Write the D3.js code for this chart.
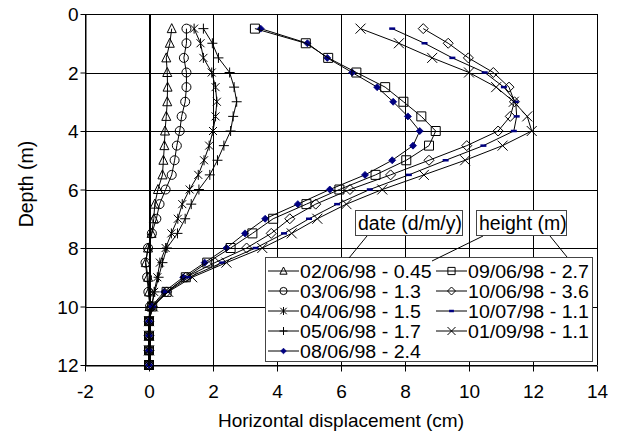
<!DOCTYPE html>
<html>
<head>
<meta charset="utf-8">
<script src="https://cdn.jsdelivr.net/npm/d3@7"></script>
<style>
  body { margin: 0; background: #fff; }
  text { font-family: "Liberation Sans", Arial, sans-serif; fill: #000; }
</style>
</head>
<body>
<div id="chart"></div>
<script>
const width = 618;
const height = 432;

// depth (m) of every reading
const depths = [0.5, 1, 1.5, 2, 2.5, 3, 3.5, 4, 4.5, 5, 5.5, 6, 6.5, 7, 7.5, 8, 8.5, 9, 9.5, 10, 10.5, 11, 11.5, 12];

// horizontal displacement (cm) per survey
const s020698 = [0.71, 0.65, 0.54, 0.57, 0.58, 0.57, 0.54, 0.50, 0.48, 0.45, 0.42, 0.28, 0.18, 0.15, 0.08, -0.03, -0.10, -0.03, 0.00, 0.02, 0, 0, 0, 0];
const s030698 = [1.17, 1.17, 1.09, 1.17, 1.17, 1.13, 1.02, 0.96, 0.87, 0.80, 0.71, 0.52, 0.33, 0.23, 0.09, -0.03, -0.11, -0.06, -0.02, 0.03, 0, 0, 0, 0];
const s040698 = [1.41, 1.61, 1.70, 1.96, 2.08, 2.12, 2.08, 2.00, 1.88, 1.72, 1.54, 1.27, 1.04, 0.90, 0.70, 0.52, 0.34, 0.26, 0.16, 0.08, 0, 0, 0, 0];
const s050698 = [1.70, 1.98, 2.17, 2.52, 2.66, 2.74, 2.63, 2.55, 2.34, 2.14, 1.90, 1.56, 1.32, 1.13, 0.89, 0.56, 0.42, 0.30, 0.18, 0.08, 0, 0, 0, 0];
const s080698 = [3.49, 4.95, 5.57, 6.35, 7.13, 7.63, 8.09, 8.46, 8.25, 7.60, 6.75, 5.65, 4.65, 3.63, 3.00, 2.42, 1.74, 1.07, 0.47, 0.08, 0, 0, 0, 0];
const s090698 = [3.31, 4.90, 5.60, 6.48, 7.38, 7.95, 8.51, 8.96, 8.75, 8.04, 7.08, 5.95, 4.92, 3.88, 3.23, 2.55, 1.82, 1.15, 0.55, 0.10, 0, 0, 0, 0];
const s100698 = [8.57, 9.35, 9.98, 10.76, 11.25, 11.42, 11.29, 10.91, 9.93, 8.75, 7.55, 6.28, 5.21, 4.40, 3.82, 3.05, 2.06, 1.15, 0.55, 0.10, 0, 0, 0, 0];
const s100798 = [7.60, 8.61, 9.48, 10.49, 11.09, 11.46, 11.49, 11.40, 10.45, 9.27, 8.12, 6.90, 5.88, 5.00, 4.22, 3.33, 2.29, 1.25, 0.57, 0.12, 0, 0, 0, 0];
const s010998 = [6.61, 7.81, 8.85, 10.00, 10.85, 11.40, 11.82, 11.96, 11.05, 9.88, 8.59, 7.29, 6.17, 5.26, 4.46, 3.54, 2.42, 1.35, 0.60, 0.12, 0, 0, 0, 0];

const seriesNames = ["02/06/98 - 0.45", "03/06/98 - 1.3", "04/06/98 - 1.5", "05/06/98 - 1.7", "08/06/98 - 2.4",
                     "09/06/98 - 2.7", "10/06/98 - 3.6", "10/07/98 - 1.1", "01/09/98 - 1.1"];
const seriesValues = [s020698, s030698, s040698, s050698, s080698, s090698, s100698, s100798, s010998];
const seriesMarkers = ["triangle", "circle", "asterisk", "plus", "dot", "square", "diamond", "dash", "cross"];

const xTicks = [-2, 0, 2, 4, 6, 8, 10, 12, 14];
const yTicks = [0, 2, 4, 6, 8, 10, 12];

// marker shapes, k = scale
function markerPath(type, k) {
    const p = v => (v * k).toFixed(2);
    switch (type) {
        case "triangle": return `M0,${p(-5)}L${p(4.5)},${p(4)}L${p(-4.5)},${p(4)}Z`;
        case "circle": return `M${p(4.5)},0A${p(4.5)},${p(4.5)} 0 1,1 ${p(-4.5)},0A${p(4.5)},${p(4.5)} 0 1,1 ${p(4.5)},0`;
        case "asterisk": return `M${p(-4)},${p(-4)}L${p(4)},${p(4)}M${p(-4)},${p(4)}L${p(4)},${p(-4)}M0,${p(-5)}L0,${p(5)}`;
        case "plus": return `M${p(-5)},0L${p(5)},0M0,${p(-5)}L0,${p(5)}`;
        case "dot": return `M0,${p(-3.5)}L${p(3.5)},0L0,${p(3.5)}L${p(-3.5)},0Z`;
        case "square": return `M${p(-4.5)},${p(-4.5)}h${p(9)}v${p(9)}h${p(-9)}Z`;
        case "diamond": return `M0,${p(-5)}L${p(5)},0L0,${p(5)}L${p(-5)},0Z`;
        case "dash": return `M${p(-3)},0L${p(3)},0`;
        case "cross": return `M${p(-5)},${p(-5)}L${p(5)},${p(5)}M${p(-5)},${p(5)}L${p(5)},${p(-5)}`;
    }
}

function styleMarker(sel, type) {
    if (type === "dot") {
        sel.attr("fill", "#000080").attr("stroke", "#000080").attr("stroke-width", 0.8);
    } else if (type === "dash") {
        sel.attr("fill", "none").attr("stroke", "#000080").attr("stroke-width", 2.5);
    } else {
        sel.attr("fill", "none").attr("stroke", "#000").attr("stroke-width", 1);
    }
}

function drawChart() {
    const svg = d3.select("#chart")
        .append("svg")
        .attr("width", width)
        .attr("height", height)
        .style("background-color", "#ffffff");

    const xScale = d3.scaleLinear()
        .domain([-2, 14])
        .range([85, 597]);

    const yScale = d3.scaleLinear()
        .domain([0, 12])
        .range([14, 365]);

    // grid
    const grid = svg.append("g").attr("shape-rendering", "crispEdges");
    grid.selectAll(".vg")
        .data(xTicks)
        .join("line")
        .attr("x1", d => Math.round(xScale(d)) + 0.5)
        .attr("x2", d => Math.round(xScale(d)) + 0.5)
        .attr("y1", yScale(0))
        .attr("y2", yScale(12))
        .attr("stroke", "#000")
        .attr("stroke-width", d => d === 0 ? 2 : 1);
    grid.selectAll(".hg")
        .data(yTicks)
        .join("line")
        .attr("x1", xScale(-2))
        .attr("x2", xScale(14))
        .attr("y1", d => Math.round(yScale(d)) + 0.5)
        .attr("y2", d => Math.round(yScale(d)) + 0.5)
        .attr("stroke", "#000");

    const xAxis = d3.axisBottom(xScale).tickValues(xTicks).tickFormat(d => String(d)).tickSize(6).tickSizeOuter(0);
    const yAxis = d3.axisLeft(yScale).tickValues(yTicks).tickFormat(d => String(d)).tickSize(5).tickSizeOuter(0);

    const gx = svg.append("g")
        .attr("transform", `translate(0, ${Math.round(yScale(12)) + 0.5})`)
        .call(xAxis);
    gx.selectAll("text").attr("dy", null).attr("y", 32).style("font-size", "19px")
        .style("font-family", "Liberation Sans, Arial, sans-serif");

    const gy = svg.append("g")
        .attr("transform", `translate(${Math.round(xScale(-2)) + 0.5}, 0)`)
        .call(yAxis);
    gy.selectAll("text").attr("dy", "0.35em").attr("x", -7).style("font-size", "19px")
        .style("font-family", "Liberation Sans, Arial, sans-serif");

    [gx, gy].forEach(g => {
        g.select(".domain").attr("stroke", "#000");
        g.selectAll("line").attr("stroke", "#000");
    });

    // axis titles
    svg.append("text")
        .attr("x", 341)
        .attr("y", 427)
        .attr("text-anchor", "middle")
        .style("font-size", "19px")
        .text("Horizontal displacement (cm)");

    svg.append("text")
        .attr("transform", "translate(33, 184) rotate(-90)")
        .attr("text-anchor", "middle")
        .style("font-size", "19.5px")
        .text("Depth (m)");

    // series
    const line = d3.line()
        .x(d => xScale(d.x))
        .y(d => yScale(d.y));

    seriesValues.forEach((values, i) => {
        const pts = values.map((v, j) => ({ x: v, y: depths[j] }));
        svg.append("path")
            .datum(pts)
            .attr("fill", "none")
            .attr("stroke", "#000")
            .attr("stroke-width", 1)
            .attr("d", line);

        svg.append("g")
            .selectAll("path")
            .data(pts)
            .join("path")
            .attr("transform", d => `translate(${xScale(d.x)}, ${yScale(d.y)})`)
            .attr("d", markerPath(seriesMarkers[i], 1))
            .call(styleMarker, seriesMarkers[i]);
    });

    // legend
    const legend = svg.append("g");
    legend.append("rect")
        .attr("x", 265.5)
        .attr("y", 257.5)
        .attr("width", 327)
        .attr("height", 104)
        .attr("fill", "#fff")
        .attr("stroke", "#444");

    const rowY = [271, 291, 311, 331, 351];
    seriesNames.forEach((name, i) => {
        const col = i < 5 ? 0 : 1;
        const row = i < 5 ? i : i - 5;
        const x0 = col === 0 ? 268 : 436;
        const y = rowY[row];
        const item = legend.append("g").attr("transform", `translate(${x0}, ${y})`);
        item.append("line")
            .attr("x1", 0).attr("x2", 31)
            .attr("y1", 0).attr("y2", 0)
            .attr("stroke", "#000");
        item.append("path")
            .attr("transform", "translate(15.5, 0)")
            .attr("d", markerPath(seriesMarkers[i], 0.8))
            .call(styleMarker, seriesMarkers[i]);
        item.append("text")
            .attr("transform", "translate(32, 6.5) scale(1.12, 1)")
            .style("font-size", "17.5px")
            .text(name);
    });

    // callouts
    const callouts = [
        { label: "date (d/m/y)", x: 355, w: 107, leaders: [[367, 236, 349, 258]] },
        { label: "height (m)", x: 476, w: 90, leaders: [[483, 236, 432, 261], [550, 236, 567, 257]] }
    ];
    callouts.forEach(c => {
        c.leaders.forEach(l => {
            svg.append("line")
                .attr("x1", l[0]).attr("y1", l[1])
                .attr("x2", l[2]).attr("y2", l[3])
                .attr("stroke", "#000");
        });
        svg.append("rect")
            .attr("x", c.x + 0.5)
            .attr("y", 210.5)
            .attr("width", c.w)
            .attr("height", 25)
            .attr("fill", "#fff")
            .attr("stroke", "#444");
        svg.append("text")
            .attr("x", c.x + 3)
            .attr("y", 230)
            .style("font-size", "19.5px")
            .text(c.label);
    });
}

drawChart();
</script>
</body>
</html>
